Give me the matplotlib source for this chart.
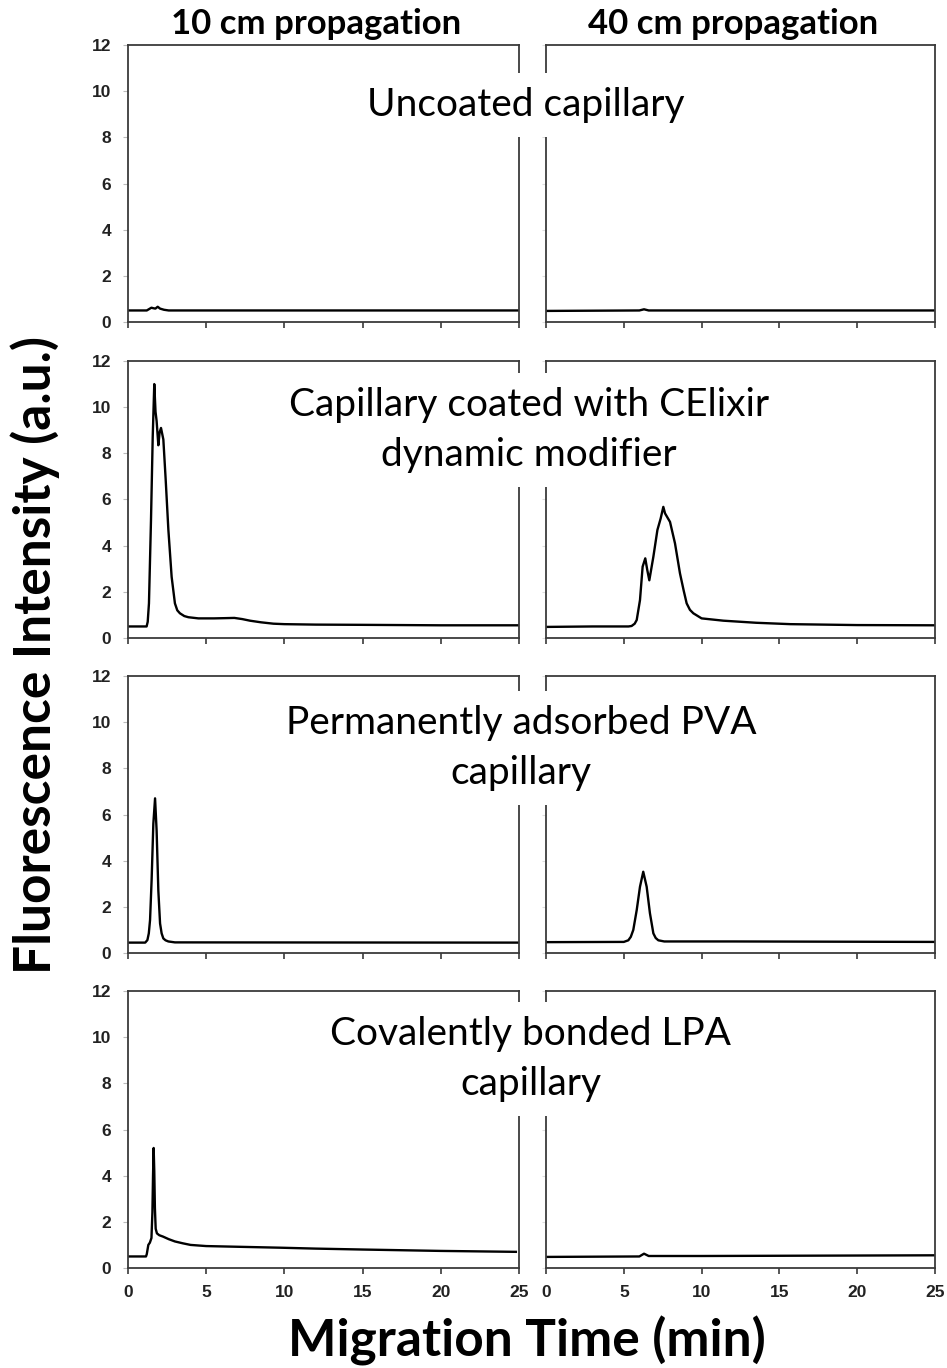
import matplotlib
matplotlib.use("Agg")
import matplotlib.pyplot as plt

# migration time (min) / fluorescence (a.u.)
t_r1_10 = [0, 1.2, 1.4, 1.5, 1.6, 1.75, 1.9, 2.05, 2.3, 2.6, 8, 15, 25]
y_r1_10 = [0.5, 0.5, 0.58, 0.62, 0.6, 0.58, 0.66, 0.58, 0.53, 0.5, 0.5, 0.5, 0.5]
t_r1_40 = [0, 6.0, 6.3, 6.6, 15, 25]
y_r1_40 = [0.48, 0.5, 0.55, 0.5, 0.5, 0.5]

t_r2_10 = [0, 1.19, 1.26, 1.34, 1.47, 1.58, 1.68, 1.76, 1.83, 1.94, 2.02, 2.11, 2.26,
           2.41, 2.58, 2.79, 3.0, 3.15, 3.32, 3.6, 3.86, 4.5, 5.5, 6.2, 6.8, 7.3,
           7.8, 8.5, 9.3, 10, 12, 15, 20, 25]
y_r2_10 = [0.5, 0.5, 0.7, 1.5, 5.1, 8.7, 11.0, 9.8, 9.4, 8.35, 8.9, 9.1, 8.6,
           6.85, 4.7, 2.65, 1.5, 1.2, 1.07, 0.95, 0.9, 0.85, 0.85, 0.86, 0.87, 0.82,
           0.75, 0.68, 0.62, 0.6, 0.58, 0.57, 0.55, 0.55]
t_r2_40 = [0, 3, 5.3, 5.5, 5.7, 5.83, 6.04, 6.21, 6.38, 6.51, 6.64, 6.9, 7.16, 7.37,
           7.54, 7.65, 7.97, 8.29, 8.61, 8.85, 9.04, 9.25, 9.47, 10.0, 11.4, 13.5,
           15.7, 20, 25]
y_r2_40 = [0.48, 0.5, 0.5, 0.52, 0.62, 0.78, 1.64, 3.09, 3.45, 2.94, 2.5, 3.52, 4.68, 5.18,
           5.68, 5.4, 5.03, 4.1, 2.8, 2.05, 1.5, 1.22, 1.07, 0.85, 0.75, 0.66,
           0.6, 0.56, 0.55]

t_r3_10 = [0, 1.1, 1.24, 1.33, 1.41, 1.51, 1.62, 1.73, 1.83, 1.94, 2.05, 2.15, 2.26,
           2.4, 2.58, 3, 25]
y_r3_10 = [0.45, 0.45, 0.56, 0.85, 1.43, 3.16, 5.6, 6.7, 5.3, 2.7, 1.28, 0.85, 0.63,
           0.55, 0.5, 0.46, 0.45]
t_r3_40 = [0, 5.0, 5.29, 5.45, 5.61, 5.83, 6.04, 6.25, 6.47, 6.68, 6.9, 7.05, 7.22,
           7.6, 12, 25]
y_r3_40 = [0.47, 0.48, 0.55, 0.7, 1.0, 1.86, 2.87, 3.52, 2.87, 1.72, 0.85, 0.65, 0.55,
           0.5, 0.5, 0.48]

t_r4_10 = [0, 1.15, 1.2, 1.3, 1.4, 1.5, 1.56, 1.6, 1.64, 1.68, 1.72, 1.77, 1.85, 2.0,
           2.24, 2.6, 3.0, 3.5, 4.0, 5.0, 7, 9.7, 12, 15, 20, 24.8]
y_r4_10 = [0.5, 0.5, 0.6, 1.0, 1.1, 1.3, 2.4, 4.0, 5.2, 4.2, 2.6, 1.7, 1.5, 1.42,
           1.36, 1.25, 1.15, 1.07, 1.0, 0.95, 0.92, 0.88, 0.84, 0.8, 0.74, 0.7]
t_r4_40 = [0, 6.0, 6.3, 6.6, 10, 25]
y_r4_40 = [0.48, 0.5, 0.62, 0.52, 0.52, 0.55]

labels = ["Uncoated capillary",
          "Capillary coated with CElixir\ndynamic modifier",
          "Permanently adsorbed PVA\ncapillary",
          "Covalently bonded LPA\ncapillary"]
col_titles = ["10 cm propagation", "40 cm propagation"]
xticks = [0, 5, 10, 15, 20, 25]
yticks = [0, 2, 4, 6, 8, 10, 12]

rows = [(t_r1_10, y_r1_10, t_r1_40, y_r1_40),
        (t_r2_10, y_r2_10, t_r2_40, y_r2_40),
        (t_r3_10, y_r3_10, t_r3_40, y_r3_40),
        (t_r4_10, y_r4_10, t_r4_40, y_r4_40)]

W, H = 947, 1368
fig = plt.figure(figsize=(W / 100, H / 100), dpi=100)

lefts = [128, 546]
widths = [391, 389]
y_bottoms = [322, 638, 953, 1268]
ax_h = 277
label_pos = [(526, 105), (529, 430), (521, 748), (531, 1059)]

for r, (t1, y1, t2, y2) in enumerate(rows):
    for c in range(2):
        ax = fig.add_axes([lefts[c] / W, 1 - y_bottoms[r] / H, widths[c] / W, ax_h / H])
        t, y = (t1, y1) if c == 0 else (t2, y2)
        ax.plot(t, y, color="black", lw=1.7, solid_joinstyle="round")
        ax.set_xlim(0, 25)
        ax.set_ylim(0, 12)
        ax.set_xticks(xticks)
        ax.set_yticks(yticks)
        for s in ax.spines.values():
            s.set_linewidth(1.3)
            s.set_color("#3a3a3a")
        ax.tick_params(axis="x", direction="out", length=4.3, width=1.2, color="#3a3a3a")
        if c == 0:
            ax.tick_params(axis="y", direction="out", length=3.6, width=0.8, color="#bbbbbb",
                           labelsize=12.5, labelcolor="#222222", pad=8.5)
            for lab in ax.get_yticklabels():
                lab.set_fontweight("bold")
                lab.set_family("Liberation Sans")
        else:
            ax.tick_params(axis="y", direction="out", length=3, width=0.8, color="#dddddd")
            ax.set_yticklabels([])
        if r == 3:
            ax.tick_params(axis="x", labelsize=12.5, labelcolor="#222222", pad=8)
            for lab in ax.get_xticklabels():
                lab.set_fontweight("bold")
                lab.set_family("Liberation Sans")
        else:
            ax.set_xticklabels([])

    fig.text(label_pos[r][0] / W, 1 - label_pos[r][1] / H, labels[r],
             ha="center", va="center", fontsize=28, family="Lato", linespacing=1.5,
             bbox=dict(facecolor="white", edgecolor="none", boxstyle="square,pad=0.35"))

fig.text(316 / W, 1 - 24 / H, col_titles[0], ha="center", va="center",
         fontsize=25, fontweight="bold", family="Lato")
fig.text(733 / W, 1 - 24 / H, col_titles[1], ha="center", va="center",
         fontsize=25, fontweight="bold", family="Lato")

fig.text(35 / W, 1 - 655 / H, "Fluorescence Intensity (a.u.)", rotation=90,
         ha="center", va="center", fontsize=37, fontweight="bold", family="Lato")
fig.text(527 / W, 1 - 1341 / H, "Migration Time (min)", ha="center", va="center",
         fontsize=37, fontweight="bold", family="Lato")

fig.savefig("out.png", dpi=100)
